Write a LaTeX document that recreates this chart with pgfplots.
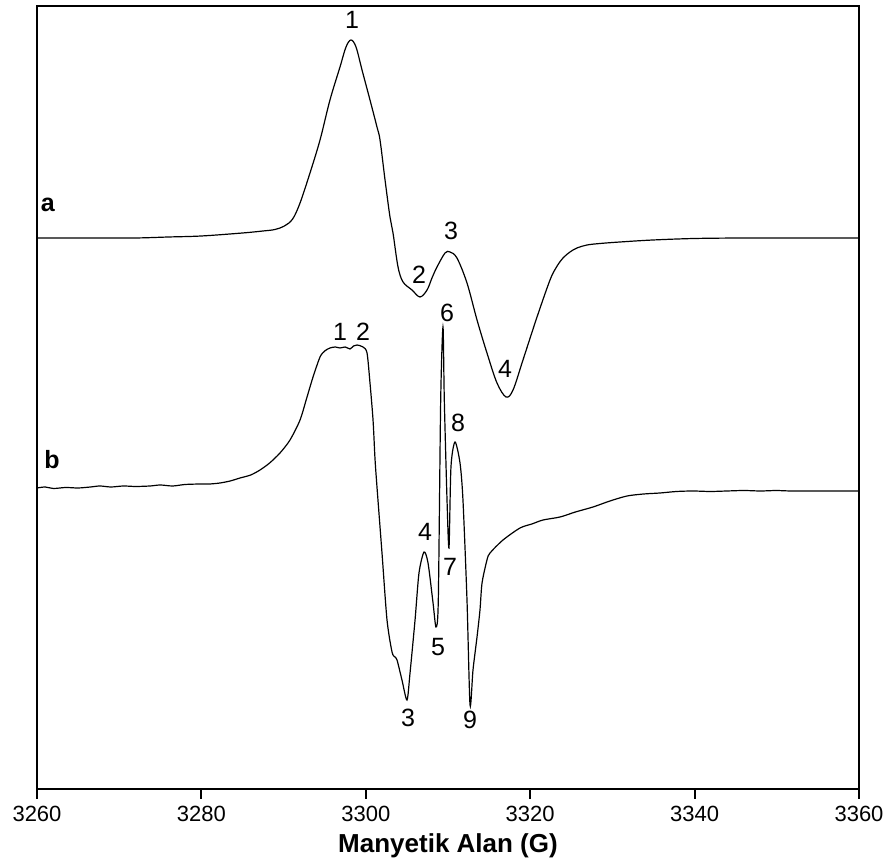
\documentclass[border=0pt]{standalone}
\usepackage{fontspec}
\setmainfont{Liberation Sans}
\usepackage{pgfplots}
\pgfplotsset{compat=1.18}
\tikzset{lbl/.style={font=\fontsize{12.5}{13}\selectfont}}

% EPR spectra: a (top) and b (bottom), field in gauss, intensity in arbitrary units
\begin{document}
\begin{tikzpicture}
\begin{axis}[
  scale only axis, width=411pt, height=391.5pt,
  xmin=3260, xmax=3360, ymin=0, ymax=783,
  xtick={3260,3280,...,3360}, ytick=\empty,
  xtick pos=bottom, tick align=outside, major tick length=5pt,
  /pgf/number format/1000 sep={},
  /pgf/number format/assume math mode=true,
  xticklabel style={font=\fontsize{11}{11}\selectfont},
  xlabel={\textbf{Manyetik Alan (G)}},
  xlabel style={font=\fontsize{13}{13}\selectfont, yshift=1pt},
  axis line style={line width=1pt},
  every tick/.style={black, line width=1pt},
  clip=false,
]
\coordinate (BL) at (rel axis cs:0,0);
\coordinate (TR) at (rel axis cs:1,1);

% spectrum a
\addplot[black, line width=0.6pt, smooth, tension=0.55] coordinates {
(3260,551) (3266,551) (3271.92,551) (3276,552) (3280,553) (3285,556)
(3287.5,558) (3288.95,559.5) (3290.1,563) (3291.1,570) (3292.00,586)
(3293.21,616) (3294.43,649) (3295.64,689) (3296.86,722) (3297.59,742)
(3298.20,749) (3298.81,742) (3299.54,719) (3300.51,689) (3301.36,662)
(3301.73,649) (3302.34,609) (3302.94,572) (3303.31,556) (3303.92,522)
(3304.53,507) (3305.62,499) (3306.59,492) (3307.45,499) (3308.05,511)
(3308.66,522) (3309.64,536) (3310.24,537) (3311.09,531) (3312.31,506)
(3313.53,469) (3314.74,436) (3315.96,406) (3317.06,392) (3317.91,399)
(3319.12,429) (3320.83,472) (3322.41,509) (3323.2,522) (3323.99,531)
(3324.84,537) (3325.69,541) (3326.91,544) (3328.5,545.5) (3330.92,547)
(3334.94,549) (3340,550.5) (3346,551) (3352,551) (3360,551)
};

% spectrum b
\addplot[black, line width=0.6pt, smooth, tension=0.45] coordinates {
(3260,301) (3261,302) (3262,300.5) (3263.5,301.5) (3265,301) (3266.5,302)
(3267.66,303) (3269,302) (3270.5,303) (3272,302.5) (3273.75,303)
(3275,304) (3276.5,303) (3278,304.5) (3279.83,305) (3281,305)
(3282.26,306) (3283.5,308) (3284.70,311) (3286,314) (3287.13,319)
(3288.3,326) (3289.56,336) (3290.78,349) (3292.00,369) (3292.85,392)
(3293.58,412) (3294.43,432) (3295.0,438) (3295.64,441) (3296.3,442)
(3296.86,441) (3297.5,442) (3298.08,440) (3298.5,443) (3298.93,444)
(3299.66,442) (3300.15,436) (3300.51,406) (3300.88,369) (3301.12,330)
(3301.36,302) (3301.97,236) (3302.58,169) (3303.19,137) (3303.55,132)
(3303.80,129) (3304.40,109) (3305.01,89) (3305.38,116) (3305.99,169)
(3306.47,216) (3307.08,237) (3307.57,226) (3308.18,186) (3308.54,162)
(3308.82,189) (3309.11,389) (3309.39,462) (3309.55,389) (3309.88,289)
(3310.12,241) (3310.36,322) (3310.85,347) (3311.46,326) (3311.82,289)
(3312.31,189) (3312.68,84) (3313.04,119) (3313.53,152) (3313.89,179)
(3314.14,206) (3314.74,229) (3315.11,236) (3316.69,249) (3318.76,261)
(3320.2,265) (3321.56,269) (3323.63,272) (3325.5,277) (3327.64,282)
(3329.7,288) (3331.78,293) (3333.8,295) (3335.79,296) (3337.8,297.5)
(3339.81,298) (3341.9,297.5) (3343.94,298) (3346,298.5) (3348,298)
(3350.02,298.5) (3352,298) (3360,298)
};

% peak numbers, spectrum a
\node[lbl] at (axis cs:3298.32,769) {1};
\node[lbl] at (axis cs:3306.47,514) {2};
\node[lbl] at (axis cs:3310.36,558) {3};
\node[lbl] at (axis cs:3316.93,420) {4};
% peak numbers, spectrum b
\node[lbl] at (axis cs:3296.86,457) {1};
\node[lbl] at (axis cs:3299.66,457) {2};
\node[lbl] at (axis cs:3305.13,71) {3};
\node[lbl] at (axis cs:3307.20,257) {4};
\node[lbl] at (axis cs:3308.78,142) {5};
\node[lbl] at (axis cs:3309.88,476) {6};
\node[lbl] at (axis cs:3310.24,222) {7};
\node[lbl] at (axis cs:3311.22,366) {8};
\node[lbl] at (axis cs:3312.68,69) {9};
% spectrum names
\node[lbl] at (axis cs:3261.34,584) {\textbf{a}};
\node[lbl] at (axis cs:3261.82,329) {\textbf{b}};
\end{axis}
\path ([xshift=-18.5pt,yshift=-37.5pt]BL) rectangle ([xshift=17pt,yshift=3pt]TR);
\end{tikzpicture}
\end{document}
